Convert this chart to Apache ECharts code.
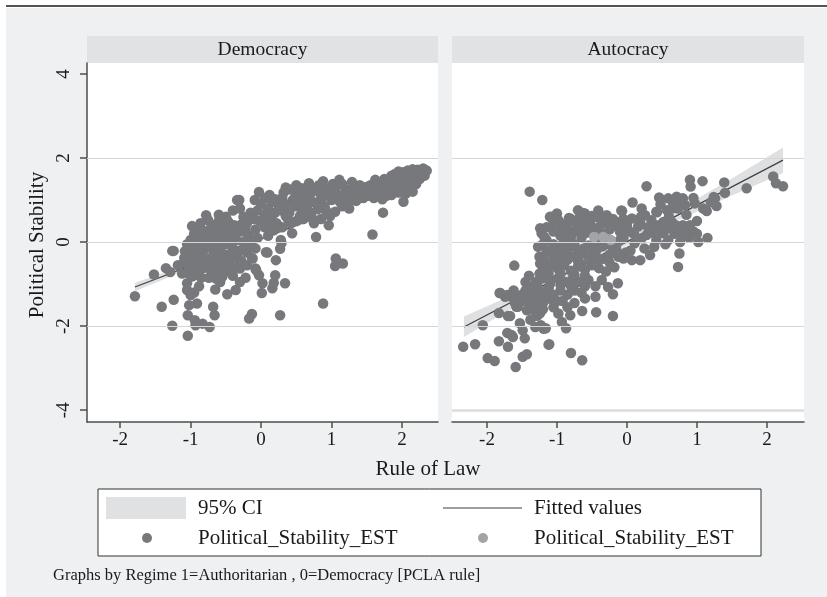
<!DOCTYPE html>
<html>
<head>
<meta charset="utf-8">
<title>Political Stability vs Rule of Law</title>
<script src="https://cdn.jsdelivr.net/npm/echarts@6.0.0/dist/echarts.min.js"></script>
<style>
  html, body { margin: 0; padding: 0; background: #fff; }
  #chart { width: 827px; height: 597px; }
</style>
</head>
<body>
<div id="chart"></div>
<script>
// panel titles and tick values
const panels = ['Democracy', 'Autocracy'];
const xTicks = [-2, -1, 0, 1, 2];
const yTicks = [-4, -2, 0, 2, 4];
const gridVals = [2, 0, -2];

// Democracy: [rule of law, political stability]
const demPoints = [
  [2.30,1.75],[2.22,1.72],[2.15,1.73],[2.08,1.70],[2.02,1.66],[1.95,1.68],[2.27,1.62],[2.18,1.60],[2.10,1.58],[2.00,1.55],
  [1.92,1.52],[1.85,1.58],[2.25,1.50],[2.14,1.47],[2.05,1.42],[1.96,1.40],[1.88,1.44],[1.80,1.38],[2.20,1.38],[2.10,1.30],
  [2.00,1.28],[1.90,1.30],[1.82,1.25],[1.75,1.32],[1.70,1.20],[2.15,1.20],[1.95,1.18],[1.85,1.12],[1.78,1.10],[1.65,1.15],
  [1.60,1.05],[1.72,1.02],[1.55,1.20],[1.62,1.30],[2.02,0.96],[1.73,0.70],[1.58,0.18],[1.90,1.62],[2.05,1.15],[1.68,1.42],
  [2.12,1.65],[1.98,1.48],[2.35,1.70],[2.24,1.55],
  [1.55,1.35],[1.62,1.48],[1.75,1.50],[1.85,1.35],[1.95,1.60],[2.05,1.62],[2.18,1.50],[2.28,1.68],[2.10,1.45],[1.98,1.35],
  [1.88,1.20],[1.78,1.20],[1.68,1.28],[1.52,1.10],[2.32,1.58],[2.20,1.68],
  [1.49,1.31],[1.40,1.35],[1.29,1.43],[1.20,1.25],[1.11,1.48],[1.05,1.20],[1.00,1.00],[1.10,1.05],[1.30,1.10],[1.42,1.15],
  [1.35,0.98],[1.22,0.95],[1.15,0.85],[0.96,0.40],[0.78,0.12],[1.25,0.80],[0.68,1.40],[0.90,1.30],[0.80,1.22],[0.70,1.15],
  [0.95,1.10],[0.85,1.00],[0.75,0.95],[0.62,1.05],[0.55,0.95],[0.65,0.85],[0.90,0.85],[0.80,0.78],[1.05,0.72],[0.98,0.62],
  [0.70,0.70],[0.58,0.72],[0.48,0.85],[0.45,1.00],[0.52,1.12],[0.40,0.70],[0.35,0.90],[0.30,1.05],[0.38,0.55],[0.85,0.55],
  [0.60,0.55],[0.50,0.50],[0.75,0.45],[0.44,0.21],[0.28,0.05],[0.88,1.45],[1.02,1.38],[0.58,1.28],[1.15,1.38],
  [0.05,1.05],[0.12,1.12],[0.20,1.02],[0.32,1.18],[0.42,1.25],[0.50,1.35],[0.62,1.20],[0.72,1.30],[0.82,1.35],[0.95,1.25],
  [1.05,1.30],[1.18,1.15],[1.28,1.25],[1.38,1.22],[1.45,1.05],[1.12,0.95],[0.92,0.75],[0.72,0.58],[0.55,0.62],[0.42,0.45],
  [0.15,0.62],[0.30,0.75],[0.65,0.98],[0.85,1.12],[1.20,1.05],[0.35,1.30],[0.10,0.40],[-0.02,0.50],[0.22,0.95],[0.48,1.05],
  [0.25,0.85],[0.20,0.70],[0.15,0.95],[0.10,0.80],[0.05,0.65],[0.00,0.90],[-0.03,1.19],[-0.09,1.00],[-0.05,0.75],[-0.10,0.55],
  [0.12,0.50],[0.22,0.45],[0.30,0.35],[0.18,0.28],[0.05,0.35],[-0.08,0.30],[-0.15,0.70],[-0.20,0.45],[-0.25,0.60],[-0.31,1.00],
  [-0.34,1.00],[-0.30,0.80],[-0.38,0.40],[-0.28,0.25],[-0.18,0.15],[-0.05,0.10],[0.07,-0.24],[0.21,-0.43],[0.27,-0.16],[0.29,-0.02],
  [0.10,0.15],[0.35,0.62],[-0.40,0.75],
  [-0.50,0.60],[-0.45,0.45],[-0.55,0.35],[-0.60,0.50],[-0.70,0.40],[-0.78,0.64],[-0.75,0.52],[-0.65,0.25],[-0.52,0.20],[-0.42,0.15],
  [-0.35,0.05],[-0.25,0.00],[-0.15,-0.05],[-0.89,0.29],[-0.80,0.20],[-0.90,0.10],[-0.85,-0.02],[-0.75,0.05],[-0.62,0.05],[-0.48,-0.05],
  [-0.40,-0.15],[-0.30,-0.20],[-0.20,-0.25],[-0.13,-0.38],[-0.07,-0.67],[-0.95,-0.10],[-1.00,-0.20],[-0.92,-0.30],[-0.82,-0.22],[-0.70,-0.15],
  [-0.58,-0.20],[-0.50,-0.30],[-0.38,-0.35],[-0.28,-0.45],[-1.05,-0.35],[-0.98,-0.45],[-0.88,-0.50],[-0.78,-0.40],[-0.65,-0.45],[-0.55,-0.55],
  [-0.45,-0.50],[-0.35,-0.60],[-1.02,-0.60],[-0.92,-0.70],[-0.82,-0.62],[-0.72,-0.65],[-0.62,-0.75],[-0.50,-0.70],[-0.40,-0.80],[-1.10,-0.50],
  [-1.09,-0.38],[-1.26,-0.21],[-1.00,0.05],[-0.95,0.20],[-0.68,-0.30],[-0.60,-0.60],[-0.85,-0.85],[-0.74,-0.85],[-0.98,-0.82],[-0.30,-0.63],
  [-0.12,-0.39],[-0.20,-0.55],[-0.60,0.65],[-0.43,0.35],[-0.33,0.25],[-0.22,0.30],[-0.72,0.30],[-0.86,0.45],[-1.05,-0.05],[-0.56,-0.05],
  [-0.45,0.05],
  [-0.95,-0.55],[-0.85,-0.35],[-0.75,-0.55],[-0.65,-0.62],[-0.52,-0.45],[-0.42,-0.65],[-0.32,-0.40],[-0.22,-0.12],[-0.12,0.05],[-0.08,-0.15],
  [-0.55,0.10],[-0.65,-0.10],[-0.85,0.32],[-0.72,0.15],[-0.48,0.52],[-0.38,0.22],[-0.28,0.42],[-0.18,0.55],[-0.92,-0.20],[-1.02,-0.75],
  [-0.88,-0.78],[-0.70,-0.78],[-0.55,-0.82],[-0.98,0.38],[-0.62,0.42],[-0.35,-0.25],[-0.45,-0.38],[-0.58,-0.32],[-0.78,-0.08],[-1.08,-0.22],
  [-1.79,-1.29],[-1.52,-0.77],[-1.29,-0.71],[-1.24,-0.21],[-1.41,-1.54],[-1.24,-1.37],[-1.26,-1.99],[-1.04,-2.23],[-1.04,-1.74],[-0.93,-1.98],
  [-0.83,-1.94],[-0.73,-2.02],[-0.68,-1.54],[-0.66,-1.74],[-1.02,-1.50],[-0.91,-1.46],[-1.00,-1.26],[-1.05,-1.14],[-1.05,-0.98],[-0.65,-1.13],
  [-0.48,-1.24],[-0.36,-1.14],[-0.17,-1.82],[-0.13,-1.71],[0.27,-1.74],[0.01,-1.21],[0.02,-0.98],[0.16,-1.10],[0.18,-0.97],[0.34,-0.98],
  [0.88,-1.46],[1.06,-0.39],[1.05,-0.57],[1.16,-0.51],[-0.08,-0.63],[-0.03,-0.79],[0.09,-0.25],[0.20,-0.79],[-0.30,-0.95],[-0.64,-0.87],
  [-0.58,-0.95],[-0.88,-1.05],[-0.95,-1.20],[-0.22,-0.85],[-1.18,-0.55],[-1.12,-0.75],[-1.35,-0.62],[-0.94,-1.86]
];

// Autocracy
const autPoints = [
  [-2.34,-2.49],[-2.17,-2.43],[-2.06,-1.98],[-1.99,-2.76],[-1.89,-2.83],[-1.83,-2.36],[-1.82,-1.21],[-1.83,-1.69],[-1.74,-1.30],[-1.70,-2.49],
  [-1.70,-1.76],[-1.71,-2.16],[-1.63,-2.26],[-1.59,-2.97],[-1.56,-1.54],[-1.43,-1.62],[-1.53,-1.93],[-1.49,-2.10],[-1.46,-2.29],[-1.49,-2.73],
  [-1.43,-2.67],[-1.29,-1.46],[-1.31,-2.02],[-1.23,-1.98],[-1.16,-2.05],[-1.11,-2.43],[-1.24,-1.69],[-0.87,-2.05],[-0.80,-2.64],[-0.64,-2.81],
  [-0.93,-1.90],[-0.81,-1.74],[-0.64,-1.64],[-0.44,-1.67],[-0.20,-1.76],[-1.61,-0.56],[-1.39,1.20],[-1.21,1.00],[-1.12,-2.44],[-1.28,-1.75],
  [-1.19,-2.06],[-1.65,-2.21],[-1.67,-1.76],[-1.50,-1.40],[-1.42,-1.25],[-1.35,-1.10],[-1.60,-1.45],[-1.38,-1.85],[-1.05,-1.55],[-0.98,-1.70],
  [-1.10,-1.35],[-0.75,-1.45],[-0.60,-1.34],
  [-1.36,-1.06],[-1.29,-0.98],[-1.22,-0.87],[-1.31,-1.30],[-1.58,-1.54],[-1.31,-1.54],[-1.40,-1.45],[-1.18,-1.30],[-1.12,-1.10],[-1.45,-1.15],
  [-1.65,-1.30],[-1.81,-1.21],[-1.71,-1.26],[-1.57,-1.31],
  [-1.10,0.60],[-1.00,0.68],[-0.70,0.76],[-0.60,0.68],[-0.41,0.75],[-0.29,0.64],[-0.08,0.75],[-0.81,0.56],[-0.50,0.62],[-0.20,0.55],
  [-1.24,0.33],[-1.22,0.21],[-0.93,0.33],[-1.05,0.45],[-0.85,0.40],[-0.72,0.45],[-0.62,0.38],[-0.52,0.42],[-0.40,0.35],[-0.30,0.45],
  [-0.18,0.38],[-0.10,0.25],[-0.75,0.25],[-0.95,0.15],
  [-1.27,-0.11],[-1.15,0.05],[-1.05,-0.05],[-0.95,-0.10],[-0.85,0.05],[-0.75,-0.05],[-0.65,0.10],[-0.55,-0.08],[-0.45,0.00],[-0.35,-0.10],
  [-0.25,0.05],[-0.15,-0.05],[-0.05,0.10],[-1.18,0.12],
  [-1.25,-0.35],[-1.15,-0.25],[-1.05,-0.35],[-0.95,-0.30],[-0.85,-0.25],[-0.75,-0.35],[-0.65,-0.28],[-0.55,-0.35],[-0.45,-0.25],[-0.35,-0.40],
  [-0.25,-0.30],[-0.12,-0.35],[-1.24,-0.51],[-0.02,-0.25],
  [-1.20,-0.65],[-1.10,-0.55],[-1.00,-0.62],[-0.90,-0.55],[-0.80,-0.68],[-0.70,-0.58],[-0.60,-0.65],[-0.50,-0.55],[-0.40,-0.62],[-0.30,-0.70],
  [-0.18,-0.60],
  [-1.30,-0.95],[-1.18,-0.85],[-1.08,-0.90],[-0.98,-0.85],[-0.88,-0.95],[-0.78,-0.88],[-0.68,-0.95],[-0.55,-0.90],[-0.36,-0.90],[-0.27,-1.07],
  [-0.13,-0.98],[-0.20,-1.24],[-1.40,-0.80],
  [-1.35,-1.30],[-1.25,-1.20],[-1.15,-1.15],[-1.05,-1.25],[-0.95,-1.15],[-0.85,-1.25],[-0.75,-1.15],[-0.65,-1.20],[-0.45,-1.30],[-1.28,-1.05],
  [-0.92,-1.40],[-1.20,-1.45],
  [-0.98,0.52],[-0.88,0.22],[-0.68,0.58],[-0.58,0.22],[-0.48,0.30],[-0.38,0.55],[-0.82,-0.12],[-0.62,-0.15],[-0.42,-0.15],[-0.90,-0.42],
  [-0.70,-0.45],[-0.50,-0.45],[-1.00,-0.15],[-1.12,-0.75],[-0.95,-0.75],[-0.75,-0.78],[-0.60,-0.80],[-0.83,0.57],[-0.63,0.69],[-1.07,0.60],
  [-1.15,0.35],[-1.05,0.25],[-0.95,0.45],[-0.80,0.12],[-0.68,0.30],[-0.55,0.50],[-0.45,0.60],[-0.35,0.20],[-0.25,0.30],[-0.12,0.45],
  [-1.20,-0.05],[-1.10,-0.20],[-0.90,0.00],[-0.70,-0.20],[-0.50,-0.15],[-0.30,-0.05],[-0.20,-0.15],[-1.18,-0.45],[-1.02,-0.48],[-0.85,-0.42],
  [-0.65,-0.52],[-0.45,-0.48],[-0.25,-0.48],[-1.10,-1.00],[-0.95,-1.02],[-0.80,-1.05],[-0.60,-1.05],[-0.45,-1.05],[-1.25,-0.75],[-1.45,-0.95],
  [-1.50,-1.25],[-1.62,-1.15],[-1.40,-1.60],[-1.20,-1.60],[-1.00,-1.40],[-0.85,-1.55],[-1.30,-1.75],
  [0.28,1.33],[0.08,0.94],[0.21,0.80],[0.46,1.06],[0.42,0.72],[0.90,1.48],[0.91,1.32],[1.08,1.45],[1.39,1.42],[1.40,1.17],
  [1.71,1.28],[2.09,1.56],[2.13,1.40],[2.23,1.33],[0.59,1.04],[0.71,1.08],[0.80,1.04],[0.83,0.88],[0.73,0.80],[0.64,0.80],
  [0.66,0.92],[0.97,0.92],[1.14,0.74],[1.26,1.04],[1.28,0.86],[1.09,0.80],[1.24,1.07],[1.02,0.00],[0.89,0.11],[0.76,0.00],
  [0.75,-0.27],[0.73,-0.59],[0.80,0.40],[0.90,0.40],[0.76,0.25],[0.59,0.05],[0.52,0.21],[0.61,0.33],[0.45,0.40],[0.35,0.29],
  [0.52,0.48],[0.64,0.48],[0.04,0.25],[0.21,0.09],[0.33,-0.31],[0.39,-0.11],[0.19,-0.43],[0.07,-0.43],[-0.05,-0.39],[0.16,0.37],
  [0.28,0.17],[0.42,0.05],[0.11,-0.03],[-0.15,-0.19],[-0.10,0.05],[-0.05,0.25],[-0.15,0.48],[0.07,0.56],[0.19,0.48],[0.35,0.52],
  [0.26,0.64],[0.57,0.76],[0.43,0.71],[-0.07,0.74],[1.00,0.20],[1.15,0.10],[0.95,0.25],[0.85,0.20],[0.68,0.20],[0.55,-0.05],
  [0.25,-0.15],[0.05,-0.20],[0.85,0.65],[0.48,0.90],
  [0.00,0.40],[0.10,0.20],[0.30,0.35],[0.50,0.35],[0.70,0.40],[0.60,0.60],[1.00,0.50],[0.80,0.15],[0.40,0.20],[0.20,0.60],
  [-0.05,0.55],[0.95,1.05],[1.20,0.95],[0.75,0.92]
];
const autLightPoints = [[-0.47,0.12],[-0.34,0.12],[-0.23,0.05]];

// fitted lines and 95% CI
const demFitX = [-1.79, 2.35];
const demFitY = [-1.07, 1.58];
const demCiX  = [-1.79, -1.0, 0.0, 1.0, 2.35];
const demCiLo = [-1.17, -0.62, 0.04, 0.68, 1.50];
const demCiHi = [-0.97, -0.51, 0.11, 0.75, 1.66];

const autFitX = [-2.33, 2.23];
const autFitY = [-2.02, 1.95];
const autCiX  = [-2.33, -1.5, -0.5, 0.5, 1.5, 2.23];
const autCiLo = [-2.26, -1.43, -0.50, 0.34, 1.11, 1.64];
const autCiHi = [-1.77, -1.16, -0.35, 0.55, 1.51, 2.25];

const FONT = 'Liberation Serif';
const DOT = '#77787c';
const DOT_LIGHT = '#a3a4a8';

const chart = echarts.init(document.getElementById('chart'));

function pairs(xs, ys) { return xs.map((x, i) => [x, ys[i]]); }

function xAxisFor(i, min, max) {
  return {
    type: 'value', gridIndex: i, min: min, max: max,
    axisLine: { show: true, onZero: false, lineStyle: { color: '#4d4d4d', width: 1.5 } },
    axisTick: { show: true, customValues: xTicks, length: 6, lineStyle: { color: '#4d4d4d', width: 1.5 } },
    axisLabel: { customValues: xTicks, color: '#1a1a1a', fontFamily: FONT, fontSize: 19, margin: 9 },
    splitLine: { show: false }
  };
}

function yAxisFor(i, showAxis) {
  return {
    type: 'value', gridIndex: i, min: -4.28, max: 4.26,
    axisLine: { show: showAxis, onZero: false, lineStyle: { color: '#4d4d4d', width: 1.5 } },
    axisTick: { show: showAxis, customValues: yTicks, length: 7, lineStyle: { color: '#4d4d4d', width: 1.5 } },
    axisLabel: { show: showAxis, customValues: yTicks, rotate: 90, color: '#1a1a1a', fontFamily: FONT, fontSize: 19, margin: 13 },
    splitLine: { show: false }
  };
}

function bandSeries(i, xs, lo, hi) {
  return {
    type: 'custom', xAxisIndex: i, yAxisIndex: i, z: 2, silent: true,
    data: [[0, 0]],
    renderItem: function (params, api) {
      const top = xs.map((x, k) => api.coord([x, hi[k]]));
      const bot = xs.map((x, k) => api.coord([x, lo[k]])).reverse();
      return { type: 'polygon', shape: { points: top.concat(bot) }, style: { fill: '#dfe0e2' } };
    }
  };
}

function gridSeries(i, vals, extra) {
  const data = vals.map(v => ({ yAxis: v }));
  if (extra) data.push({ yAxis: -4, lineStyle: { color: '#dcdcdc', width: 2.5 } });
  return {
    type: 'line', xAxisIndex: i, yAxisIndex: i, data: [], z: 1, silent: true,
    markLine: {
      silent: true, symbol: ['none', 'none'], label: { show: false },
      lineStyle: { color: '#d6d6d6', width: 1, type: 'solid' },
      animation: false, data: data
    }
  };
}

function fitSeries(i, xs, ys) {
  return {
    type: 'line', xAxisIndex: i, yAxisIndex: i, data: pairs(xs, ys), z: 3,
    symbol: 'none', silent: true, lineStyle: { color: '#3f3f3f', width: 1.2 }
  };
}

function dotSeries(i, pts, color) {
  return {
    type: 'scatter', xAxisIndex: i, yAxisIndex: i, data: pts, z: 4,
    symbolSize: 10.5, itemStyle: { color: color, opacity: 1 }
  };
}

const textStyle = (txt, size, extra) => Object.assign({ text: txt, font: size + 'px "' + FONT + '"', fill: '#1a1a1a' }, extra || {});

const graphics = [
  // page background and top rule
  { type: 'rect', z: -10, shape: { x: 6, y: 8, width: 821, height: 589 }, style: { fill: '#eff0f2' } },
  { type: 'line', z: -9, shape: { x1: 6, y1: 6, x2: 827, y2: 6 }, style: { stroke: '#1a1a1a', lineWidth: 1.5 } },
  // panel headers
  { type: 'rect', z: -9, shape: { x: 87, y: 36, width: 351, height: 27 }, style: { fill: '#e1e2e4' } },
  { type: 'rect', z: -9, shape: { x: 452, y: 36, width: 352, height: 27 }, style: { fill: '#e1e2e4' } },
  { type: 'text', x: 262.5, y: 49.5, style: textStyle(panels[0], 19.5, { textAlign: 'center', textVerticalAlign: 'middle' }) },
  { type: 'text', x: 628, y: 49.5, style: textStyle(panels[1], 19.5, { textAlign: 'center', textVerticalAlign: 'middle' }) },
  // axis titles
  { type: 'text', x: 37, y: 245, rotation: Math.PI / 2, style: textStyle('Political Stability', 21, { textAlign: 'center', textVerticalAlign: 'middle' }) },
  { type: 'text', x: 428, y: 469, style: textStyle('Rule of Law', 21, { textAlign: 'center', textVerticalAlign: 'middle' }) },
  // legend
  { type: 'rect', z: 5, shape: { x: 98, y: 489, width: 663, height: 67 }, style: { fill: '#fff', stroke: '#333', lineWidth: 1 } },
  { type: 'rect', z: 6, shape: { x: 106, y: 497, width: 80, height: 22 }, style: { fill: '#e0e1e3' } },
  { type: 'text', z: 6, x: 198, y: 508, style: textStyle('95% CI', 21, { textVerticalAlign: 'middle' }) },
  { type: 'line', z: 6, shape: { x1: 443, y1: 508, x2: 522, y2: 508 }, style: { stroke: '#3f3f3f', lineWidth: 1.2 } },
  { type: 'text', z: 6, x: 534, y: 508, style: textStyle('Fitted values', 21, { textVerticalAlign: 'middle' }) },
  { type: 'circle', z: 6, shape: { cx: 147, cy: 538, r: 5 }, style: { fill: DOT } },
  { type: 'text', z: 6, x: 198, y: 538, style: textStyle('Political_Stability_EST', 21, { textVerticalAlign: 'middle' }) },
  { type: 'circle', z: 6, shape: { cx: 483, cy: 538, r: 5 }, style: { fill: DOT_LIGHT } },
  { type: 'text', z: 6, x: 534, y: 538, style: textStyle('Political_Stability_EST', 21, { textVerticalAlign: 'middle' }) },
  // note
  { type: 'text', x: 53, y: 576, style: textStyle('Graphs by Regime 1=Authoritarian , 0=Democracy [PCLA rule]', 16.5, { textVerticalAlign: 'middle' }) }
];

const option = {
  animation: false,
  backgroundColor: '#fff',
  graphic: graphics,
  grid: [
    { left: 87, top: 63, width: 351, height: 359, show: true, backgroundColor: '#fff', borderWidth: 0 },
    { left: 452, top: 63, width: 352, height: 359, show: true, backgroundColor: '#fff', borderWidth: 0 }
  ],
  xAxis: [xAxisFor(0, -2.47, 2.51), xAxisFor(1, -2.5, 2.53)],
  yAxis: [yAxisFor(0, true), yAxisFor(1, false)],
  series: [
    gridSeries(0, gridVals, false),
    gridSeries(1, gridVals, true),
    bandSeries(0, demCiX, demCiLo, demCiHi),
    bandSeries(1, autCiX, autCiLo, autCiHi),
    fitSeries(0, demFitX, demFitY),
    fitSeries(1, autFitX, autFitY),
    dotSeries(0, demPoints, DOT),
    dotSeries(1, autPoints, DOT),
    dotSeries(1, autLightPoints, DOT_LIGHT)
  ]
};

chart.setOption(option);
</script>
</body>
</html>
